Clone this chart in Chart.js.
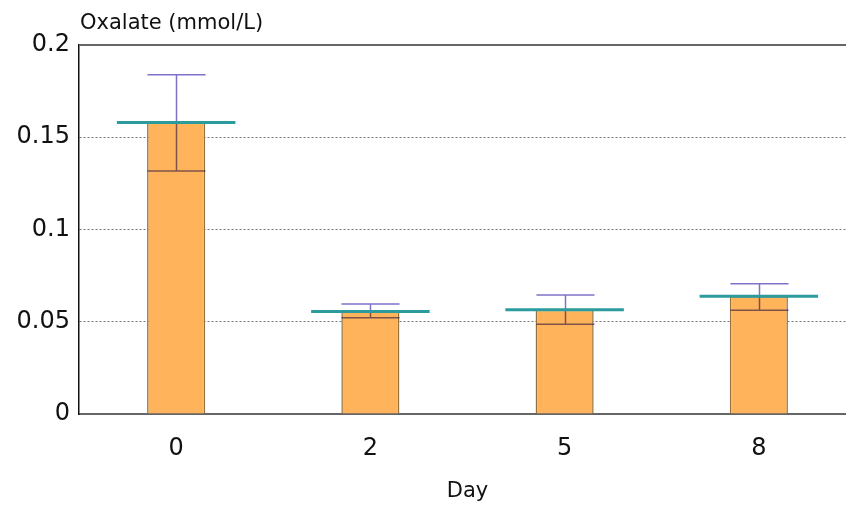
<!DOCTYPE html>
<html>
<head>
<meta charset="utf-8">
<script src="https://cdn.jsdelivr.net/npm/chart.js@4.4.1/dist/chart.umd.min.js"></script>
<style>
  html, body { margin: 0; padding: 0; background: #fff; overflow: hidden; }
  #wrap { width: 846px; height: 506px; overflow: hidden; }
</style>
</head>
<body>
<div id="wrap"><canvas id="oxChart" width="856" height="506"></canvas></div>
<script>
// データ
let days = ['0', '2', '5', '8'];
let means = [0.158, 0.0556, 0.0565, 0.0638];
let errLow = [0.1317, 0.0522, 0.0486, 0.0562];
let errHigh = [0.1839, 0.0596, 0.0645, 0.0706];
let yTicks = [0, 0.05, 0.1, 0.15, 0.2];

let tickFont = { family: 'DejaVu Sans', size: 24 };

// 誤差棒と平均線を描くプラグイン
let overlayPlugin = {
  id: 'overlay',
  afterDatasetsDraw(chart) {
    let ctx = chart.ctx;
    let xs = chart.scales.x;
    let ys = chart.scales.y;
    let catW = (chart.chartArea.right - chart.chartArea.left) / days.length;
    let barW = catW * 0.299;
    let meanW = catW * 0.61;
    ctx.save();
    // 誤差棒
    ctx.globalCompositeOperation = 'multiply';
    ctx.strokeStyle = '#7F72C9';
    ctx.lineWidth = 1.5;
    for (let i = 0; i < days.length; i++) {
      let cx = Math.round(xs.getPixelForValue(i)) + 0.5;
      let yl = ys.getPixelForValue(errLow[i]);
      let yh = ys.getPixelForValue(errHigh[i]);
      ctx.beginPath();
      ctx.moveTo(cx, yl);
      ctx.lineTo(cx, yh);
      ctx.moveTo(cx - barW / 2, yh);
      ctx.lineTo(cx + barW / 2, yh);
      ctx.moveTo(cx - barW / 2, yl);
      ctx.lineTo(cx + barW / 2, yl);
      ctx.stroke();
    }
    ctx.globalCompositeOperation = 'source-over';
    // 平均線
    ctx.strokeStyle = '#2B9B9D';
    ctx.lineWidth = 3;
    for (let i = 0; i < days.length; i++) {
      let cx = xs.getPixelForValue(i);
      let ym = ys.getPixelForValue(means[i]);
      ctx.beginPath();
      ctx.moveTo(cx - meanW / 2, ym);
      ctx.lineTo(cx + meanW / 2, ym);
      ctx.stroke();
    }
    ctx.restore();
  },
  afterDraw(chart) {
    let ctx = chart.ctx;
    let area = chart.chartArea;
    ctx.save();
    // 上の枠線
    ctx.strokeStyle = '#666';
    ctx.lineWidth = 2;
    ctx.beginPath();
    ctx.moveTo(area.left, area.top);
    ctx.lineTo(chart.width, area.top);
    ctx.stroke();
    // 縦軸タイトル
    ctx.fillStyle = '#111';
    ctx.font = '21px "DejaVu Sans"';
    ctx.textBaseline = 'middle';
    ctx.textAlign = 'left';
    ctx.fillText('Oxalate (mmol/L)', area.left + 1, 24);
    ctx.restore();
  }
};

let ctxEl = document.getElementById('oxChart');
let oxChart = new Chart(ctxEl, {
  type: 'bar',
  data: {
    labels: days,
    datasets: [{
      data: means,
      backgroundColor: '#FFB45C',
      borderColor: '#94703C',
      borderWidth: 1.5,
      barPercentage: 0.299,
      categoryPercentage: 1,
    }],
  },
  options: {
    responsive: false,
    animation: false,
    layout: { padding: { top: 45, left: 0, right: 0, bottom: 0 } },
    plugins: {
      legend: { display: false },
      tooltip: { enabled: false },
    },
    scales: {
      x: {
        grid: { display: false, drawTicks: false },
        border: { color: '#666', width: 2 },
        ticks: { color: '#111', font: tickFont, padding: 20 },
        title: {
          display: true,
          text: 'Day',
          color: '#111',
          font: { family: 'DejaVu Sans', size: 21 },
          padding: { top: 0, bottom: 2 },
        },
        afterFit(s) { s.height = 92; },
      },
      y: {
        min: 0,
        max: 0.2,
        afterBuildTicks(s) { s.ticks = yTicks.map(v => ({ value: v })); },
        grid: {
          drawTicks: false,
          color: c => (c.tick && (c.tick.value === 0 || c.tick.value === 0.2)) ? 'rgba(0,0,0,0)' : '#777',
          lineWidth: 1,
        },
        border: { color: '#111', width: 1.5, dash: [2, 2] },
        ticks: {
          color: '#111',
          font: tickFont,
          padding: 9,
          callback: v => String(v),
        },
        afterFit(s) { s.width = 79; },
      },
    },
  },
  plugins: [overlayPlugin],
});
</script>
</body>
</html>
